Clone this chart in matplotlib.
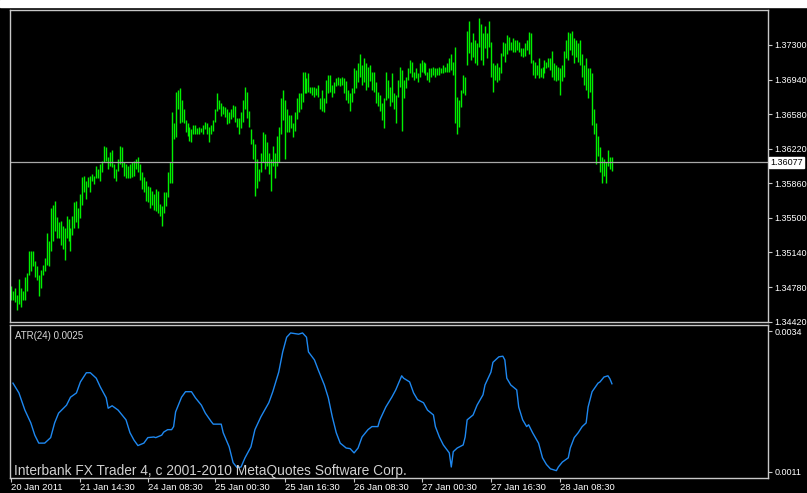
import numpy as np
import matplotlib.pyplot as plt
from matplotlib.patches import Rectangle

plt.rcParams['font.family'] = ['Liberation Sans', 'DejaVu Sans']

# 30-minute EURUSD bars, high / low
highs = [
    1.3479, 1.3474, 1.3477, 1.3470, 1.3486, 1.3477, 1.3474, 1.3488, 1.3493, 1.3516,
    1.3515, 1.3516, 1.3505, 1.3500, 1.3491, 1.3496, 1.3501, 1.3508, 1.3534, 1.3526,
    1.3560, 1.3563, 1.3568, 1.3551, 1.3546, 1.3547, 1.3542, 1.3539, 1.3552, 1.3549,
    1.3539, 1.3552, 1.3567, 1.3568, 1.3560, 1.3575, 1.3593, 1.3594, 1.3588, 1.3593,
    1.3594, 1.3596, 1.3594, 1.3604, 1.3601, 1.3606, 1.3609, 1.3625, 1.3624, 1.3613,
    1.3619, 1.3621, 1.3606, 1.3601, 1.3611, 1.3625, 1.3624, 1.3608, 1.3606, 1.3604,
    1.3606, 1.3608, 1.3609, 1.3611, 1.3613, 1.3606, 1.3598, 1.3593, 1.3588, 1.3583,
    1.3582, 1.3578, 1.3575, 1.3580, 1.3578, 1.3564, 1.3562, 1.3577,
    1.3577, 1.3598, 1.3608, 1.3660, 1.3649, 1.3681, 1.3683, 1.3685, 1.3673, 1.3663,
    1.3652, 1.3649, 1.3645, 1.3642, 1.3647, 1.3647, 1.3644, 1.3645, 1.3644, 1.3647,
    1.3650, 1.3649, 1.3645, 1.3647, 1.3652, 1.3663, 1.3680, 1.3673, 1.3670, 1.3666,
    1.3665, 1.3663, 1.3660, 1.3663, 1.3668, 1.3666, 1.3654, 1.3654, 1.3660, 1.3673,
    1.3686, 1.3681, 1.3661, 1.3642, 1.3632, 1.3627, 1.3611, 1.3601, 1.3618, 1.3639,
    1.3637, 1.3629, 1.3618, 1.3611, 1.3625, 1.3618, 1.3635, 1.3645, 1.3675, 1.3683,
    1.3673, 1.3663, 1.3657, 1.3657, 1.3649, 1.3660, 1.3675, 1.3680, 1.3680, 1.3702,
    1.3702, 1.3696, 1.3701, 1.3686, 1.3686, 1.3686, 1.3685, 1.3688,
    1.3675, 1.3683, 1.3675, 1.3694, 1.3699, 1.3699, 1.3688, 1.3691, 1.3696, 1.3697,
    1.3696, 1.3697, 1.3696, 1.3692, 1.3683, 1.3680, 1.3685, 1.3706, 1.3704, 1.3711,
    1.3721, 1.3709, 1.3716, 1.3711, 1.3707, 1.3709, 1.3702, 1.3702, 1.3691, 1.3681,
    1.3678, 1.3670, 1.3675, 1.3702, 1.3694, 1.3686, 1.3701, 1.3680, 1.3678, 1.3694,
    1.3707, 1.3704, 1.3694, 1.3697, 1.3706, 1.3714, 1.3712, 1.3702, 1.3706, 1.3701,
    1.3711, 1.3714, 1.3712, 1.3711, 1.3702, 1.3706, 1.3706, 1.3707, 1.3706, 1.3706,
    1.3707, 1.3706, 1.3709, 1.3707, 1.3711, 1.3716, 1.3721, 1.3712, 1.3728, 1.3676,
    1.3673, 1.3683, 1.3699, 1.3697, 1.3745, 1.3755, 1.3733, 1.3742, 1.3735, 1.3732,
    1.3758, 1.3752, 1.3742, 1.3750, 1.3742, 1.3755, 1.3733, 1.3711, 1.3709, 1.3711,
    1.3707, 1.3722, 1.3733, 1.3732, 1.3740, 1.3738, 1.3733, 1.3737, 1.3735, 1.3735,
    1.3733, 1.3727, 1.3727, 1.3732, 1.3735, 1.3743, 1.3742, 1.3714, 1.3712, 1.3709,
    1.3716, 1.3706, 1.3707, 1.3714, 1.3712, 1.3716, 1.3716, 1.3724, 1.3711, 1.3709,
    1.3707, 1.3706, 1.3709, 1.3724, 1.3735, 1.3743, 1.3742, 1.3745, 1.3737, 1.3735,
    1.3732, 1.3735, 1.3721, 1.3709, 1.3716, 1.3706, 1.3706, 1.3701, 1.3663, 1.3649,
    1.3635, 1.3624, 1.3613, 1.3611, 1.3608, 1.3621, 1.3613, 1.3613,
]
lows = [
    1.3465, 1.3464, 1.3462, 1.3454, 1.3460, 1.3457, 1.3464, 1.3464, 1.3474, 1.3491,
    1.3495, 1.3500, 1.3488, 1.3485, 1.3469, 1.3477, 1.3491, 1.3495, 1.3501, 1.3500,
    1.3516, 1.3526, 1.3536, 1.3529, 1.3529, 1.3522, 1.3518, 1.3506, 1.3529, 1.3526,
    1.3516, 1.3532, 1.3539, 1.3546, 1.3539, 1.3550, 1.3563, 1.3577, 1.3570, 1.3582,
    1.3577, 1.3588, 1.3585, 1.3591, 1.3591, 1.3588, 1.3598, 1.3608, 1.3609, 1.3601,
    1.3604, 1.3603, 1.3591, 1.3588, 1.3599, 1.3606, 1.3603, 1.3594, 1.3591, 1.3591,
    1.3591, 1.3593, 1.3594, 1.3601, 1.3598, 1.3589, 1.3580, 1.3577, 1.3568, 1.3567,
    1.3560, 1.3563, 1.3558, 1.3557, 1.3555, 1.3552, 1.3542, 1.3555,
    1.3562, 1.3572, 1.3586, 1.3586, 1.3632, 1.3634, 1.3663, 1.3649, 1.3650, 1.3649,
    1.3639, 1.3635, 1.3630, 1.3629, 1.3637, 1.3637, 1.3637, 1.3637, 1.3639, 1.3637,
    1.3642, 1.3637, 1.3629, 1.3637, 1.3640, 1.3650, 1.3661, 1.3663, 1.3656, 1.3658,
    1.3655, 1.3648, 1.3649, 1.3653, 1.3655, 1.3650, 1.3645, 1.3637, 1.3644, 1.3650,
    1.3663, 1.3654, 1.3645, 1.3627, 1.3611, 1.3573, 1.3581, 1.3588, 1.3598, 1.3608,
    1.3601, 1.3604, 1.3596, 1.3578, 1.3604, 1.3591, 1.3604, 1.3608, 1.3637, 1.3652,
    1.3611, 1.3639, 1.3639, 1.3644, 1.3634, 1.3640, 1.3653, 1.3660, 1.3663, 1.3671,
    1.3680, 1.3680, 1.3681, 1.3680, 1.3678, 1.3676, 1.3678, 1.3676,
    1.3663, 1.3661, 1.3660, 1.3670, 1.3680, 1.3681, 1.3676, 1.3680, 1.3687, 1.3688,
    1.3687, 1.3688, 1.3680, 1.3673, 1.3670, 1.3661, 1.3671, 1.3680, 1.3685, 1.3691,
    1.3697, 1.3688, 1.3691, 1.3683, 1.3686, 1.3692, 1.3683, 1.3681, 1.3670, 1.3666,
    1.3661, 1.3652, 1.3644, 1.3673, 1.3675, 1.3666, 1.3671, 1.3663, 1.3649, 1.3676,
    1.3686, 1.3640, 1.3675, 1.3685, 1.3694, 1.3701, 1.3697, 1.3694, 1.3696, 1.3691,
    1.3697, 1.3702, 1.3701, 1.3699, 1.3694, 1.3691, 1.3697, 1.3699, 1.3697, 1.3699,
    1.3699, 1.3701, 1.3701, 1.3702, 1.3702, 1.3702, 1.3704, 1.3699, 1.3649, 1.3637,
    1.3645, 1.3665, 1.3680, 1.3678, 1.3709, 1.3722, 1.3714, 1.3717, 1.3711, 1.3709,
    1.3728, 1.3714, 1.3709, 1.3727, 1.3716, 1.3728, 1.3697, 1.3681, 1.3694, 1.3691,
    1.3694, 1.3701, 1.3719, 1.3712, 1.3721, 1.3725, 1.3725, 1.3723, 1.3723, 1.3725,
    1.3723, 1.3719, 1.3717, 1.3719, 1.3725, 1.3721, 1.3711, 1.3699, 1.3696, 1.3699,
    1.3696, 1.3697, 1.3696, 1.3701, 1.3706, 1.3707, 1.3704, 1.3697, 1.3694, 1.3692,
    1.3694, 1.3678, 1.3692, 1.3697, 1.3716, 1.3714, 1.3725, 1.3720, 1.3711, 1.3717,
    1.3712, 1.3709, 1.3697, 1.3688, 1.3683, 1.3675, 1.3681, 1.3647, 1.3637, 1.3606,
    1.3614, 1.3598, 1.3586, 1.3594, 1.3586, 1.3604, 1.3601, 1.3599,
]
bid_price = 1.36077

# ATR(24) read at these bar numbers
atr_bar = [
    1, 4, 7, 10, 12, 14, 17, 20, 22, 24, 28, 30, 33, 35, 38, 40, 43, 45, 48, 49,
    51, 54, 56, 58, 60, 62, 64, 67, 69, 72, 73, 76, 77, 79, 81, 82, 83, 86, 88, 91,
    93, 96, 98, 101, 102, 106, 107, 110, 112, 114, 116, 118, 121, 123, 126, 130, 132, 135, 137, 139,
    141, 145, 147, 149, 150, 153, 155, 158, 160, 162, 164, 166, 169, 171, 173, 175, 177, 180, 182, 185,
    186, 189, 192, 194, 197, 198, 201, 203, 205, 208, 210, 213, 214, 216, 218, 221, 222, 223, 225, 228,
    229, 230, 233, 235, 238, 239, 242, 243, 246, 248, 249, 250, 252, 255, 256, 258, 260, 261, 263, 266,
    268, 270, 272, 275, 276, 278, 281, 282, 284, 286, 288, 290, 291, 293, 296, 297, 299, 301, 302, 303,
]
atr = [
    25.5, 23.9, 21.1, 19.0, 17.0, 15.7, 15.7, 16.6, 19.0, 20.6, 21.9, 23.2, 23.9, 25.7, 27.2, 27.2, 26.3, 24.9, 23.1, 21.4,
    21.8, 21.1, 20.3, 19.5, 17.4, 16.2, 15.3, 15.7, 16.6, 16.7, 16.6, 17.0, 17.5, 17.9, 17.9, 18.4, 20.8, 23.2, 24.1, 24.1,
    23.1, 21.9, 20.6, 19.2, 18.8, 18.8, 17.4, 15.1, 12.5, 11.7, 11.8, 13.3, 15.1, 17.9, 20.0, 22.3, 24.1, 27.3, 30.6, 33.0,
    33.7, 33.5, 33.7, 33.0, 30.6, 29.3, 27.6, 25.2, 23.1, 20.0, 17.4, 15.7, 14.9, 14.8, 14.1, 14.9, 16.7, 17.9, 18.4, 18.4,
    19.5, 21.6, 23.2, 24.4, 26.7, 26.3, 25.7, 23.9, 22.8, 22.3, 21.1, 20.3, 18.4, 16.7, 15.4, 14.1, 11.8, 14.3, 14.9, 15.4,
    16.7, 19.5, 20.3, 21.9, 23.6, 25.2, 27.3, 28.9, 29.8, 29.9, 29.3, 26.3, 25.2, 24.4, 21.6, 19.5, 18.4, 18.7, 17.4, 15.7,
    13.3, 12.2, 11.5, 11.2, 11.8, 12.6, 13.3, 14.9, 16.6, 17.4, 18.4, 19.0, 21.6, 24.1, 25.5, 25.7, 26.5, 26.7, 26.2, 25.4,
]
atr = [v * 1e-4 for v in atr]

tick_bar = [0, 35, 69, 103, 138, 173, 207, 242, 277]
tick_text = ["20 Jan 2011", "21 Jan 14:30", "24 Jan 08:30", "25 Jan 00:30",
             "25 Jan 16:30", "26 Jan 08:30", "27 Jan 00:30", "27 Jan 16:30",
             "28 Jan 08:30"]
price_ticks = [1.37300, 1.36940, 1.36580, 1.36220, 1.35860,
               1.35500, 1.35140, 1.34780, 1.34420]
atr_ticks = [0.0034, 0.0011]

W, H = 807, 493
frame = '#c8c8c8'
fig = plt.figure(figsize=(W / 100, H / 100), dpi=100, facecolor='black')
fig.patches.append(Rectangle((0, 1 - 7 / H), 1, 7 / H, transform=fig.transFigure,
                             color='white', zorder=0))

xlim = (-0.5, 381.7)

ax = fig.add_axes([10 / W, 1 - 322 / H, 758 / W, 312 / H], facecolor='black')
x = np.arange(len(highs))
ax.vlines(x, lows, highs, color='#00f000', lw=1.0)
ax.axhline(bid_price, color='#a8a8a8', lw=0.9)
ax.set_xlim(*xlim)
ax.set_ylim(1.34416, 1.37664)
ax.set_xticks([])
ax.yaxis.tick_right()
ax.set_yticks(price_ticks)
ax.set_yticklabels([f"{v:.5f}" for v in price_ticks])
ax.tick_params(axis='y', colors=frame, labelcolor='white', labelsize=6.5,
               length=3, width=0.8, pad=1.5)
ax.annotate(f"{bid_price:.5f}", xy=(1.003, bid_price),
            xycoords=('axes fraction', 'data'), ha='left', va='center',
            fontsize=6.5, color='black',
            bbox=dict(boxstyle='square,pad=0.15', fc='white', ec='white'))
for s in ax.spines.values():
    s.set_color(frame)
    s.set_linewidth(1.0)

ax2 = fig.add_axes([10 / W, 1 - 478 / H, 758 / W, 153 / H], facecolor='black')
ax2.plot(atr_bar, atr, color='#1e88f0', lw=1.0)
ax2.set_xlim(*xlim)
ax2.set_ylim(0.00100, 0.00350)
ax2.yaxis.tick_right()
ax2.set_yticks(atr_ticks)
ax2.set_yticklabels([f"{v:.4f}" for v in atr_ticks])
ax2.tick_params(axis='y', colors=frame, labelcolor='white', labelsize=6.5,
                length=3, width=0.8, pad=1.5)
ax2.set_xticks(tick_bar)
ax2.set_xticklabels(tick_text)
for lab in ax2.get_xticklabels():
    lab.set_horizontalalignment('left')
ax2.tick_params(axis='x', colors=frame, labelcolor='white', labelsize=6.8,
                length=3, width=0.8, pad=0.5)
for s in ax2.spines.values():
    s.set_color(frame)
    s.set_linewidth(1.0)

ax2.text(0.007, 0.93, "ATR(24) 0.0025", transform=ax2.transAxes,
         fontsize=7, color='#d8d8d8', ha='left', va='center')
ax2.text(0.005, 0.045, "Interbank FX Trader 4, c 2001-2010 MetaQuotes Software Corp.",
         transform=ax2.transAxes, fontsize=9.9, color='#d0d0d0',
         ha='left', va='center')

fig.savefig("out.png", dpi=100, facecolor=fig.get_facecolor())
